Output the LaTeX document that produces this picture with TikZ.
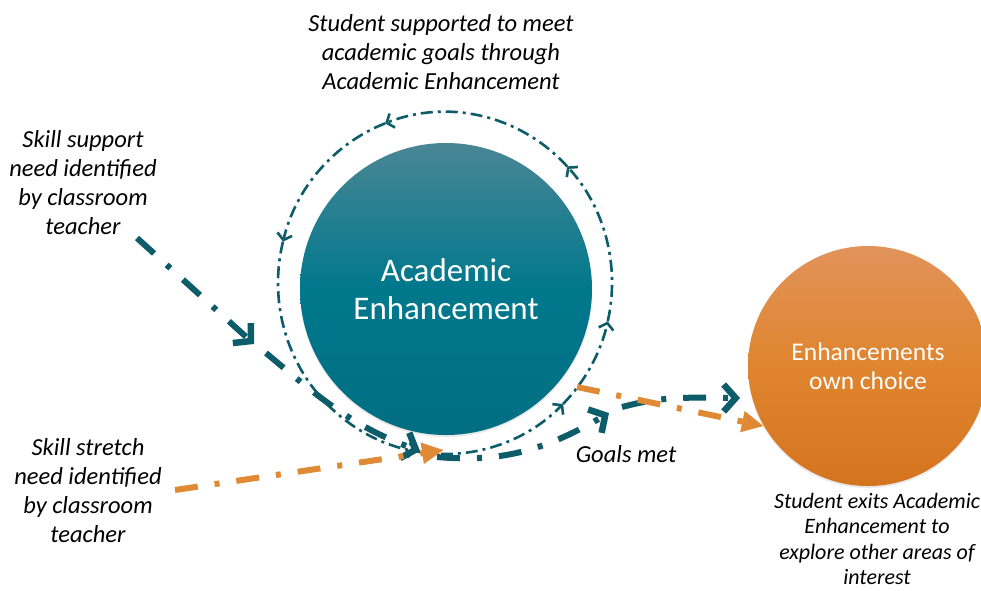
\documentclass[tikz,border=0pt]{standalone}
\usepackage{fontspec}
\setmainfont{Carlito}
\usetikzlibrary{arrows.meta,shadows}

\definecolor{aeTop}{HTML}{4A8695}
\definecolor{aeMid}{HTML}{00788C}
\definecolor{aeBottom}{HTML}{006E83}
\definecolor{ownTop}{HTML}{E1935A}
\definecolor{ownMid}{HTML}{E0852F}
\definecolor{ownBottom}{HTML}{D5741E}
\definecolor{pathTeal}{HTML}{0D5C69}
\definecolor{pathOrange}{HTML}{E08A35}

\begin{document}
\begin{tikzpicture}[x=1pt, y=1pt,
	note/.style={font=\itshape\fontsize{24.5}{29}\selectfont, align=center},
	bubble/.style={circle, inner sep=0pt, text=white, align=center},
	loopline/.style={draw=pathTeal, line width=2.6pt, dash pattern=on 12pt off 5pt on 3pt off 5pt, -{Straight Barb[length=6pt, width=15pt, line width=2.6pt]}},
	supportline/.style={draw=pathTeal, line width=6pt, dash pattern=on 23pt off 17pt on 5pt off 17pt, -{Straight Barb[length=12pt, width=27pt, line width=6.5pt]}},
	stretchline/.style={draw=pathOrange, line width=6pt, dash pattern=on 23pt off 17pt on 5pt off 17pt, -{Triangle[length=22pt, width=20pt]}}]

	\def\Xmax{981}
	\def\Ymax{-590}
	\def\loopRx{167pt}
	\def\loopRy{171pt}

	\clip (0,0) rectangle (\Xmax,\Ymax);
	\fill[white] (0,0) rectangle (\Xmax,\Ymax);

	% The two enhancement circles
	\node[bubble, minimum size=292pt, top color=aeTop, bottom color=aeBottom, middle color=aeMid,
		drop shadow={shadow xshift=0pt, shadow yshift=-2pt, opacity=.18},
		font=\fontsize{33}{38.5}\selectfont] (ae) at (446,-289) {Academic\\Enhancement};
	\node[bubble, minimum size=240pt, top color=ownTop, bottom color=ownBottom, middle color=ownMid,
		drop shadow={shadow xshift=0pt, shadow yshift=-2pt, opacity=.18},
		font=\fontsize{25.5}{28.5}\selectfont] (own) at (868,-366) {Enhancements\\own choice};

	% Support loop round Academic Enhancement
	\coordinate (loopc) at (445,-283);
	\foreach \a/\b in {166/260, 260/315, 315/347, 347/403, 403/471, 471/526}
		\draw[loopline] ([shift={({\loopRx*cos(\a)},{\loopRy*sin(\a)})}]loopc)
			arc[start angle=\a, end angle=\b, x radius=\loopRx, y radius=\loopRy];

	% Skill support path
	\coordinate (sup0) at (137,-238);
	\coordinate (sup1) at (254,-344);
	\coordinate (sup2) at (266,-353);
	\coordinate (sup3) at (420,-451);
	\coordinate (sup4) at (437,-457);
	\coordinate (sup5) at (609,-413);
	\coordinate (sup6) at (622,-407);
	\coordinate (sup7) at (740,-398);
	\draw[supportline] (sup0) -- (sup1);
	\draw[supportline] (sup2) to[out=-40, in=160] (sup3);
	\draw[supportline] (sup4) to[out=-5, in=210] (sup5);
	\draw[supportline] (sup6) to[out=15, in=180] (sup7);

	% Skill stretch path
	\coordinate (str0) at (175,-490);
	\coordinate (str1) at (444,-450);
	\coordinate (str2) at (577,-387);
	\draw[stretchline] (str0) -- (str1);
	\draw[stretchline] (str2) -- (own.210);

	% Labels
	\node[note] (loopnote) at (441,-52) {Student supported to meet\\academic goals through\\Academic Enhancement};
	\node[note] (support) at (83,-183) {Skill support\\need identified\\by classroom\\teacher};
	\node[note] (stretch) at (88,-491) {Skill stretch\\need identified\\by classroom\\teacher};
	\node[note] (goals) at (626,-454) {Goals met};
	\node[note, font=\itshape\fontsize{22}{25.5}\selectfont] (exits) at (877,-539)
		{Student exits Academic\\Enhancement to\\explore other areas of\\interest};

\end{tikzpicture}
\end{document}
